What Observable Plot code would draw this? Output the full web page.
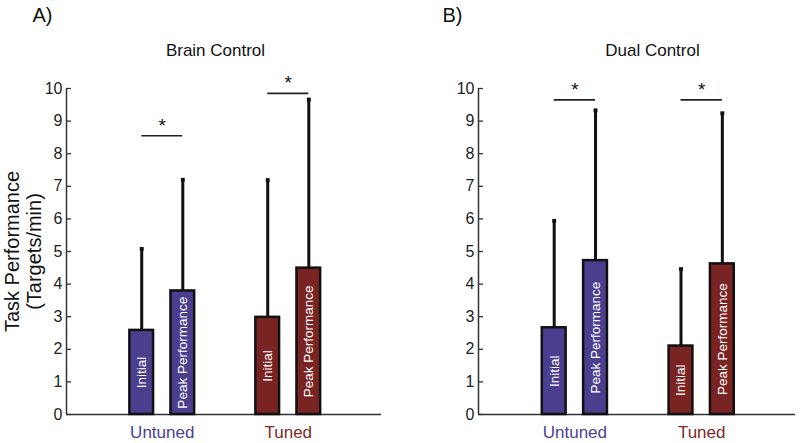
<!DOCTYPE html>
<html>
<head>
<meta charset="utf-8">
<script src="https://cdn.jsdelivr.net/npm/d3@7"></script>
<script src="https://cdn.jsdelivr.net/npm/@observablehq/plot@0.6"></script>
<style>
  html, body { margin: 0; padding: 0; background: #fff; }
  #wrap { position: relative; width: 800px; height: 443px; font-family: "Liberation Sans", Arial, sans-serif; }
  #wrap > div { position: absolute; top: 0; }
</style>
</head>
<body>
<div id="wrap"><div id="pA" style="left:0"></div><div id="pB" style="left:400px"></div></div>
<script>
// ---- data ----
const groups = ["Untuned", "Tuned"];
const conditions = ["Initial", "Peak Performance"];
const groupColors = ["#4b3e8e", "#7a2323"];
const groupTextColors = ["#4e4190", "#7e2a28"];
const panelLetters = ["A)", "B)"];
const panelTitles = ["Brain Control", "Dual Control"];
// order: Untuned-Initial, Untuned-Peak, Tuned-Initial, Tuned-Peak
const brainMeans = [2.58, 3.79, 2.98, 4.49];
const brainUpper = [5.08, 7.20, 7.19, 9.66];
const dualMeans = [2.66, 4.72, 2.10, 4.62];
const dualUpper = [5.94, 9.33, 4.46, 9.24];
const brainSig = [8.55, 9.85];
const dualSig = [9.65, 9.65];
const yTicks = [0, 1, 2, 3, 4, 5, 6, 7, 8, 9, 10];
const yLabel = "Task Performance\n(Targets/min)";

// ---- layout constants ----
const xDomain = [0.24, 2.74];
const barOffset = 0.163;
const barHalf = 0.094;
const font = "Liberation Sans, Arial, sans-serif";

function rows(means, upper) {
  const out = [];
  groups.forEach((g, gi) => conditions.forEach((c, ci) => {
    const k = gi * 2 + ci;
    out.push({group: g, gi, cond: c, ci, mean: means[k], upper: upper[k]});
  }));
  return out;
}
const cx = d => d.gi + 1 + (d.ci === 0 ? -barOffset : barOffset);

function panel(el, cfg) {
  const data = rows(cfg.means, cfg.upper);
  const sig = groups.map((g, gi) => ({gi, y: cfg.sig[gi]}));
  const cats = groups.map((g, gi) => ({g, gi}));
  const chart = Plot.plot({
    width: 400, height: 443,
    marginTop: 88, marginBottom: 29, marginLeft: cfg.ml, marginRight: cfg.mr,
    style: {fontFamily: font, fontSize: "16px", background: "transparent", color: "#222"},
    x: {domain: xDomain, axis: null},
    y: {domain: [0, 10], axis: null},
    marks: [
      Plot.axisY(yTicks, {tickSize: -5, tickPadding: 9, stroke: "#333", strokeWidth: 1.3, fill: "#222", fontSize: 16, label: null}),
      Plot.ruleX([xDomain[0]], {stroke: "#333", strokeWidth: 1.5}),
      Plot.ruleY([0], {stroke: "#333", strokeWidth: 1.5}),
      Plot.ruleX(data, {x: cx, y1: "mean", y2: "upper", stroke: "#111", strokeWidth: 3}),
      Plot.dot(data, {x: cx, y: "upper", symbol: "square", r: 2.2, fill: "#111"}),
      Plot.rectY(data, {x1: d => cx(d) - barHalf, x2: d => cx(d) + barHalf, y1: 0, y2: "mean",
        fill: d => groupColors[d.gi], stroke: "#111", strokeWidth: 2.5}),
      Plot.text(data, {x: cx, y: d => d.mean / 2, text: "cond", rotate: -90, fill: "white", fontSize: 13.5}),
      Plot.ruleY(sig, {y: "y", x1: d => d.gi + 1 - barOffset, x2: d => d.gi + 1 + barOffset, stroke: "#222", strokeWidth: 1.6}),
      Plot.text(sig, {x: d => d.gi + 1, y: "y", text: () => "*", dy: -10, fontSize: 19, fill: "#111"}),
      Plot.text(cats, {x: d => d.gi + 1, text: "g", frameAnchor: "bottom", lineAnchor: "middle", dy: 18, fontSize: 17, fill: d => groupTextColors[d.gi]}),
      Plot.text([cfg.title], {frameAnchor: "top-left", textAnchor: "middle", lineAnchor: "middle", dx: cfg.titleDx, dy: -38, fontSize: 17, fill: "#111"}),
      Plot.text([cfg.letter], {frameAnchor: "top-left", textAnchor: "middle", lineAnchor: "middle", dx: cfg.letterDx, dy: -72.5, fontSize: 20, fill: "#111"}),
      ...(cfg.showYLabel ? [Plot.text([yLabel], {frameAnchor: "left", textAnchor: "middle", lineAnchor: "middle", dx: -43.5, rotate: -90, fontSize: 20, lineHeight: 1.07, fill: "#111"})] : [])
    ]
  });
  document.getElementById(el).appendChild(chart);
}

panel("pA", {means: brainMeans, upper: brainUpper, sig: brainSig, ml: 66, mr: 19,
  title: panelTitles[0], letter: panelLetters[0], titleDx: 149, letterDx: -24, showYLabel: true});
panel("pB", {means: dualMeans, upper: dualUpper, sig: dualSig, ml: 78, mr: 5,
  title: panelTitles[1], letter: panelLetters[1], titleDx: 174, letterDx: -26, showYLabel: false});
</script>
</body>
</html>
